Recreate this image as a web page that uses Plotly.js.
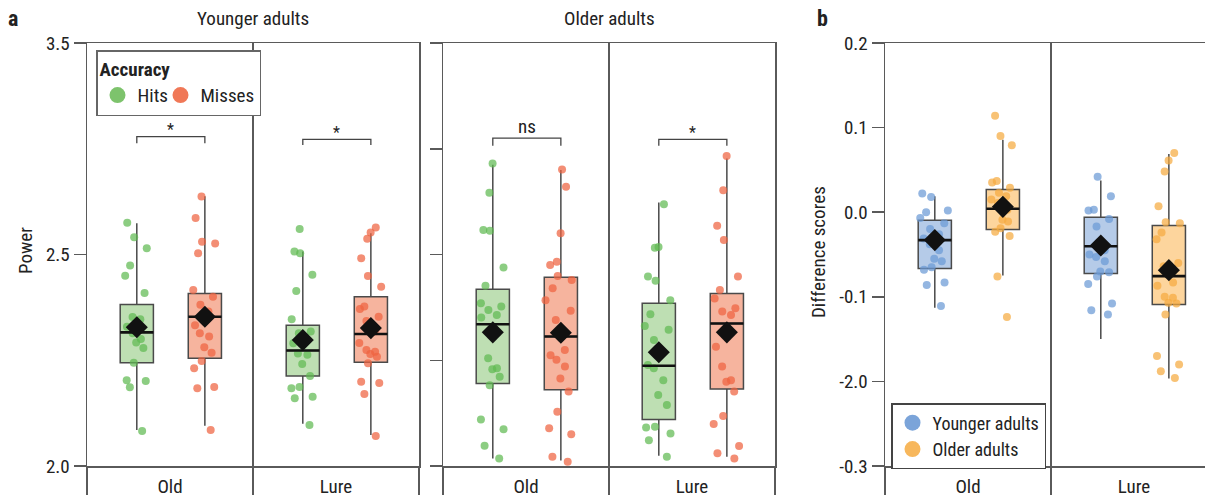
<!DOCTYPE html>
<html>
<head>
<meta charset="utf-8">
<script src="https://cdn.plot.ly/plotly-3.0.1.min.js"></script>
<style>html,body{margin:0;padding:0;background:#fff;}#chart{width:1205px;height:497px;}</style>
</head>
<body>
<div id="chart"></div>
<script>
// ---------- data ----------
const categories = ['Old', 'Lure'];
const accuracyGroups = ['Hits', 'Misses'];
const ageGroups = ['Younger adults', 'Older adults'];

// Panel a: Younger adults, raw points
const yaHitsOld  = [2.575,2.541,2.515,2.474,2.450,2.409,2.352,2.347,2.329,2.314,2.300,2.292,2.279,2.244,2.203,2.201,2.186,2.083];
const yaHitsLure = [2.560,2.507,2.503,2.452,2.414,2.347,2.318,2.314,2.298,2.290,2.266,2.263,2.241,2.213,2.187,2.184,2.164,2.160,2.097];
const yaMissOld  = [2.637,2.586,2.530,2.526,2.503,2.416,2.400,2.381,2.365,2.333,2.314,2.306,2.281,2.268,2.248,2.231,2.187,2.184,2.085];
const yaMissLure = [2.564,2.552,2.537,2.491,2.449,2.424,2.377,2.371,2.353,2.343,2.318,2.291,2.274,2.270,2.265,2.258,2.243,2.199,2.196,2.170,2.071];
// Panel a: Older adults, raw points
const oaHitsOld  = [2.715,2.646,2.558,2.556,2.469,2.426,2.385,2.377,2.369,2.357,2.351,2.255,2.231,2.229,2.211,2.191,2.110,2.087,2.048,2.018];
const oaHitsLure = [2.619,2.518,2.516,2.448,2.438,2.392,2.359,2.331,2.322,2.298,2.270,2.239,2.231,2.203,2.168,2.144,2.093,2.091,2.077,2.061,2.022];
const oaMissOld  = [2.701,2.660,2.550,2.483,2.475,2.449,2.440,2.420,2.392,2.367,2.345,2.274,2.262,2.251,2.235,2.207,2.176,2.128,2.089,2.075,2.022,2.010];
const oaMissLure = [2.733,2.652,2.568,2.534,2.448,2.416,2.396,2.373,2.365,2.357,2.282,2.235,2.203,2.199,2.176,2.118,2.099,2.047,2.030,2.018];
// Panel b: difference scores, raw points
const dYoungOld  = [0.022,0.018,0.002,0.000,-0.007,-0.013,-0.020,-0.026,-0.031,-0.038,-0.045,-0.055,-0.058,-0.065,-0.068,-0.083,-0.086,-0.111];
const dYoungLure = [0.042,0.019,0.003,0.002,-0.008,-0.017,-0.045,-0.050,-0.053,-0.058,-0.070,-0.071,-0.076,-0.085,-0.108,-0.116,-0.121];
const dOldOld    = [0.114,0.090,0.079,0.037,0.035,0.029,0.023,0.019,0.015,0.011,0.003,-0.009,-0.011,-0.019,-0.023,-0.028,-0.076,-0.124];
const dOldLure   = [0.070,0.061,0.048,0.007,-0.012,-0.013,-0.024,-0.032,-0.060,-0.064,-0.083,-0.087,-0.100,-0.101,-0.107,-0.108,-0.121,-0.170,-0.180,-0.188,-0.196];

// Box statistics per category [Old, Lure]
const yaHitsQ1 = [2.244, 2.213], yaHitsMed = [2.316, 2.273], yaHitsQ3 = [2.382, 2.333], yaHitsLo = [2.085, 2.100], yaHitsHi = [2.574, 2.507], yaHitsMean = [2.328, 2.298];
const yaMissQ1 = [2.255, 2.245], yaMissMed = [2.353, 2.312], yaMissQ3 = [2.408, 2.400], yaMissLo = [2.095, 2.073], yaMissHi = [2.638, 2.550], yaMissMean = [2.353, 2.326];
const oaHitsQ1 = [2.195, 2.110], oaHitsMed = [2.335, 2.237], oaHitsQ3 = [2.418, 2.385], oaHitsLo = [2.018, 2.024], oaHitsHi = [2.712, 2.623], oaHitsMean = [2.316, 2.269];
const oaMissQ1 = [2.180, 2.182], oaMissMed = [2.306, 2.337], oaMissQ3 = [2.446, 2.408], oaMissLo = [2.013, 2.022], oaMissHi = [2.700, 2.727], oaMissMean = [2.315, 2.316];
const dYoungQ1 = [-0.0665, -0.0724], dYoungMed = [-0.033, -0.0402], dYoungQ3 = [-0.0095, -0.006], dYoungLo = [-0.113, -0.150], dYoungHi = [0.019, 0.0376], dYoungMean = [-0.033, -0.0394];
const dOldQ1   = [-0.0205, -0.109], dOldMed = [0.004, -0.0756], dOldQ3 = [0.0267, -0.0158], dOldLo = [-0.0748, -0.1966], dOldHi = [0.0856, 0.0687], dOldMean = [0.0063, -0.0685];

// Tick labels (as printed)
const powerTickVals = [2.0, 2.5, 3.0];
const powerTickText = ['2.0', '2.5', '3.5'];
const powerMinorTickVals = [2.0, 2.25, 2.5, 2.75, 3.0];
const diffTickVals = [-0.3, -0.2, -0.1, 0.0, 0.1, 0.2];
const diffTickText = ['-0.3', '-2.0', '-0.1', '0.0', '0.1', '0.2'];

// significance labels [Old, Lure]
const sigYoung = ['*', '*'];
const sigOld = ['ns', '*'];

// ---------- styles ----------
const FONT = 'Liberation Sans Narrow, Roboto Condensed, Arial Narrow, Roboto, sans-serif';
const AX = '#5a5a5a';
const W = 1205, H = 497;
const FS = 19;
const OFFS = [0.3, 0.71];       // within-category positions of the two boxes
const BOXW = 0.2;
const sty = {
  Hits:   {pt: '#5fba52', fill: '#bedfb3', leg: '#7dc36c', lw: 18},
  Misses: {pt: '#ee6240', fill: '#f6b49e', leg: '#f07857', lw: 54},
  Young:  {pt: '#6b9ad6', fill: '#b5cbe8', leg: '#7ba4d9'},
  Older:  {pt: '#f5aa40', fill: '#fdd59d', leg: '#f7b75c'}
};

const traces = [];
function pos(ci, gi) { return ci + OFFS[gi]; }

function addGroup(xa, ya, gi, st, q1, med, q3, lo, hi, mean, pointsByCat) {
  const xs = categories.map((c, ci) => pos(ci, gi));
  traces.push({type: 'box', orientation: 'v', xaxis: xa, yaxis: ya, x: xs, q1: q1, median: med, q3: q3,
    lowerfence: lo, upperfence: hi, width: BOXW, whiskerwidth: 0, fillcolor: st.fill,
    line: {color: '#4a4a4a', width: 1.5}, boxpoints: false, showlegend: false, hoverinfo: 'skip'});
  pointsByCat.forEach((pts, ci) => {
    traces.push({type: 'box', xaxis: xa, yaxis: ya, y: pts, x0: pos(ci, gi), width: BOXW,
      boxpoints: 'all', jitter: 0.95, pointpos: 0, fillcolor: 'rgba(0,0,0,0)',
      line: {color: 'rgba(0,0,0,0)', width: 0}, whiskerwidth: 0,
      marker: {color: st.pt, size: 8, opacity: 0.72}, showlegend: false, hoverinfo: 'y'});
  });
  traces.push({type: 'box', orientation: 'v', xaxis: xa, yaxis: ya, x: xs, q1: med, median: med, q3: med,
    lowerfence: med, upperfence: med, width: BOXW, whiskerwidth: 0, fillcolor: 'rgba(0,0,0,0)',
    line: {color: '#111', width: 2.6}, boxpoints: false, showlegend: false, hoverinfo: 'skip'});
  traces.push({type: 'scatter', mode: 'markers', xaxis: xa, yaxis: ya, x: xs, y: mean,
    marker: {symbol: 'diamond', size: 17, color: '#111'}, showlegend: false, hoverinfo: 'y'});
}

addGroup('x', 'y', 0, sty.Hits, yaHitsQ1, yaHitsMed, yaHitsQ3, yaHitsLo, yaHitsHi, yaHitsMean, [yaHitsOld, yaHitsLure]);
addGroup('x', 'y', 1, sty.Misses, yaMissQ1, yaMissMed, yaMissQ3, yaMissLo, yaMissHi, yaMissMean, [yaMissOld, yaMissLure]);
addGroup('x2', 'y2', 0, sty.Hits, oaHitsQ1, oaHitsMed, oaHitsQ3, oaHitsLo, oaHitsHi, oaHitsMean, [oaHitsOld, oaHitsLure]);
addGroup('x2', 'y2', 1, sty.Misses, oaMissQ1, oaMissMed, oaMissQ3, oaMissLo, oaMissHi, oaMissMean, [oaMissOld, oaMissLure]);
addGroup('x3', 'y3', 0, sty.Young, dYoungQ1, dYoungMed, dYoungQ3, dYoungLo, dYoungHi, dYoungMean, [dYoungOld, dYoungLure]);
addGroup('x3', 'y3', 1, sty.Older, dOldQ1, dOldMed, dOldQ3, dOldLo, dOldHi, dOldMean, [dOldOld, dOldLure]);

// legend entries
accuracyGroups.forEach(g => traces.push({type: 'scatter', mode: 'markers', x: [null], y: [null], xaxis: 'x', yaxis: 'y',
  name: g, legend: 'legend', legendwidth: sty[g].lw, marker: {color: sty[g].leg, size: 16}}));
[['Younger adults', sty.Young], ['Older adults', sty.Older]].forEach(([n, s]) => traces.push({type: 'scatter', mode: 'markers',
  x: [null], y: [null], xaxis: 'x3', yaxis: 'y3', name: n, legend: 'legend2', marker: {color: s.leg, size: 16}}));

// ---------- layout ----------
const yDom = [(H - 466) / H, (H - 43) / H];
function xAxis(dom, rng, anchor) {
  return {domain: dom, range: rng, anchor: anchor, showgrid: false, zeroline: false,
    showline: true, linecolor: AX, linewidth: 1.5, mirror: true,
    tickmode: 'array', tickvals: categories.map((c, i) => i + 0.5), ticktext: categories,
    ticks: 'outside', ticklen: 3, tickcolor: 'rgba(0,0,0,0)',
    tickfont: {size: FS, color: '#222'},
    minor: {tickmode: 'array', tickvals: [0, 1, 2], ticks: 'outside', ticklen: 27, tickwidth: 1.5, tickcolor: AX,
      showgrid: true, gridcolor: AX, gridwidth: 1.5}};
}
function yAxis(dom, rng, anchor, vals, text, showLab, mirror) {
  return {domain: dom, range: rng, anchor: anchor, showgrid: false, zeroline: false,
    showline: true, linecolor: AX, linewidth: 1.5, mirror: mirror,
    tickmode: 'array', tickvals: vals, ticktext: text, showticklabels: showLab,
    ticks: 'outside', ticklen: 12, tickwidth: 1.5, tickcolor: AX, tickfont: {size: FS, color: '#222'}};
}

const shapes = [];
const annotations = [];
// significance brackets
function bracket(xa, ya, ci, yTop, yBot, label, yLab) {
  const x0 = pos(ci, 0), x1 = pos(ci, 1);
  shapes.push({type: 'path', xref: xa, yref: ya, path: `M ${x0},${yBot} L ${x0},${yTop} L ${x1},${yTop} L ${x1},${yBot}`,
    line: {color: '#444', width: 1.3}});
  annotations.push({xref: xa, yref: ya, x: (x0 + x1) / 2, y: yLab, text: label, showarrow: false,
    font: {size: label === '*' ? 16 : FS, color: '#222'}, yanchor: 'middle'});
}
bracket('x', 'y', 0, 2.7785, 2.763, sigYoung[0], 2.795);
bracket('x', 'y', 1, 2.772, 2.759, sigYoung[1], 2.789);
bracket('x2', 'y2', 0, 2.775, 2.757, sigOld[0], 2.802);
bracket('x2', 'y2', 1, 2.772, 2.757, sigOld[1], 2.789);

function ann(text, x, y, size, bold, rot) {
  annotations.push({xref: 'paper', yref: 'paper', x: x / W, y: 1 - y / H, text: bold ? '<b>' + text + '</b>' : text,
    showarrow: false, xanchor: 'center', yanchor: 'middle', textangle: rot || 0, font: {size: size, color: '#222'}});
}
ann('a', 13, 18, 22, true);
ann('b', 822, 18, 22, true);
ann(ageGroups[0], 253, 18, FS);
ann(ageGroups[1], 609, 18, FS);
ann('Power', 25, 251, FS, false, -90);
ann('Difference scores', 818, 252, FS, false, -90);

const layout = {
  width: W, height: H, margin: {l: 0, r: 0, t: 0, b: 0},
  paper_bgcolor: '#fff', plot_bgcolor: '#fff',
  font: {family: FONT, size: FS, color: '#222'},
  boxmode: 'overlay',
  xaxis: xAxis([87 / W, 419 / W], [0, 2], 'y'),
  yaxis: yAxis(yDom, [2, 3], 'x', powerTickVals, powerTickText, true, true),
  xaxis2: xAxis([443 / W, 775 / W], [0, 2], 'y2'),
  yaxis2: yAxis(yDom, [2, 3], 'x2', powerMinorTickVals, powerMinorTickVals.map(String), false, true),
  xaxis3: xAxis([885 / W, 1], [0, (W - 885) / 166], 'y3'),
  yaxis3: yAxis(yDom, [-0.3, 0.2], 'x3', diffTickVals, diffTickText, true, false),
  legend: {x: 96 / W, y: 1 - 50 / H, xanchor: 'left', yanchor: 'top', orientation: 'h',
    title: {text: '<b>Accuracy</b>', side: 'top', font: {size: FS}}, entrywidthmode: 'pixels',
    bordercolor: '#666', borderwidth: 1.5, bgcolor: '#fff', font: {size: FS}, itemsizing: 'trace'},
  legend2: {x: 891 / W, y: 1 - 403 / H, xanchor: 'left', yanchor: 'top', orientation: 'v',
    bordercolor: '#444', borderwidth: 1.5, bgcolor: '#fff', font: {size: 18}, tracegroupgap: 0, itemsizing: 'trace'},
  shapes: shapes,
  annotations: annotations,
  showlegend: true
};

Plotly.newPlot('chart', traces, layout, {displayModeBar: false, staticPlot: true});
</script>
</body>
</html>
